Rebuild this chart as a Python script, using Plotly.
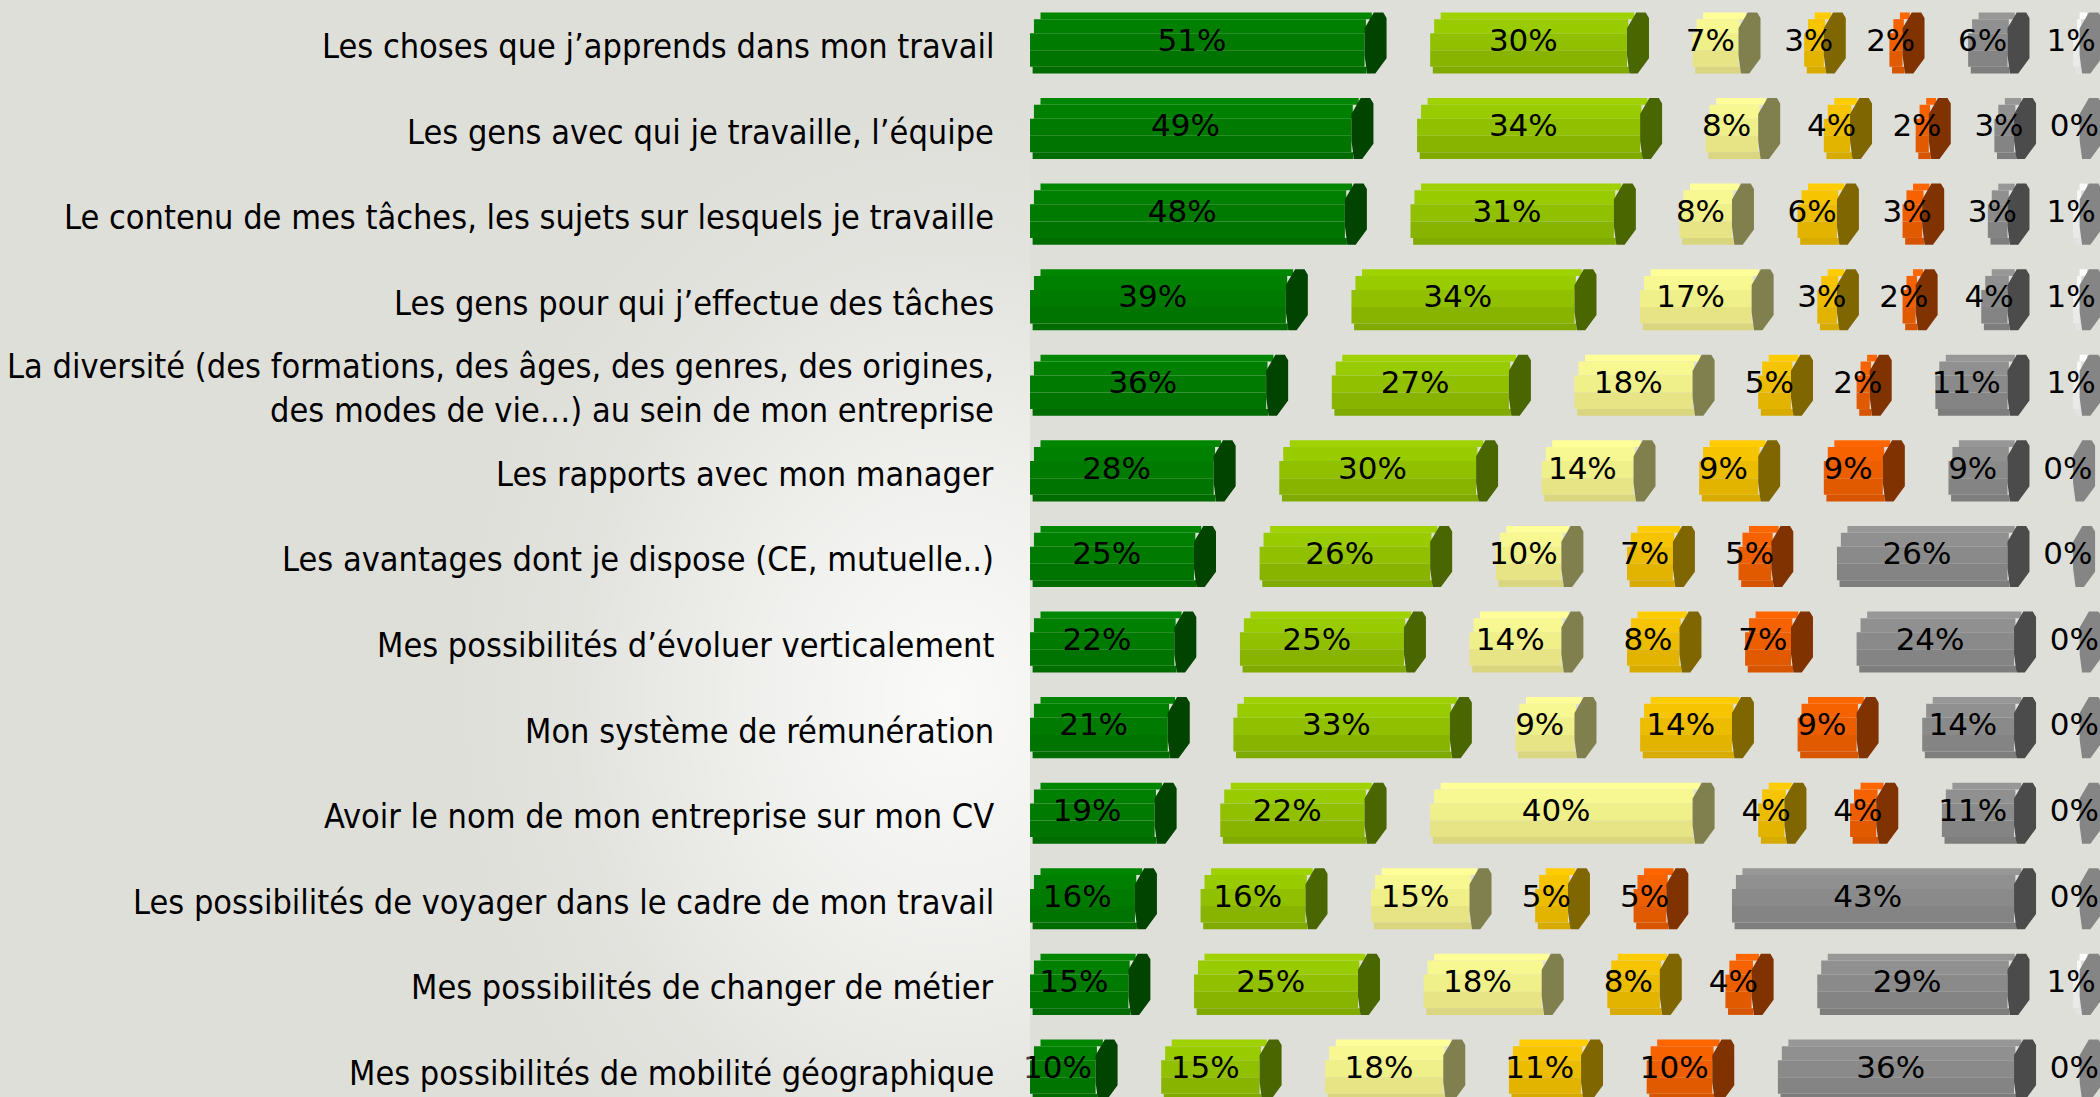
import plotly.graph_objects as go

# ---------------- data ----------------
row_labels = [
    "Les choses que j’apprends dans mon travail",
    "Les gens avec qui je travaille, l’équipe",
    "Le contenu de mes tâches, les sujets sur lesquels je travaille",
    "Les gens pour qui j’effectue des tâches",
    "La diversité (des formations, des âges, des genres, des origines,<br>des modes de vie…) au sein de mon entreprise",
    "Les rapports avec mon manager",
    "Les avantages dont je dispose (CE, mutuelle..)",
    "Mes possibilités d’évoluer verticalement",
    "Mon système de rémunération",
    "Avoir le nom de mon entreprise sur mon CV",
    "Les possibilités de voyager dans le cadre de mon travail",
    "Mes possibilités de changer de métier",
    "Mes possibilités de mobilité géographique",
]
serie_1 = [51, 49, 48, 39, 36, 28, 25, 22, 21, 19, 16, 15, 10]
serie_2 = [30, 34, 31, 34, 27, 30, 26, 25, 33, 22, 16, 25, 15]
serie_3 = [7, 8, 8, 17, 18, 14, 10, 14, 9, 40, 15, 18, 18]
serie_4 = [3, 4, 6, 3, 5, 9, 7, 8, 14, 4, 5, 8, 11]
serie_5 = [2, 2, 3, 2, 2, 9, 5, 7, 9, 4, 5, 4, 10]
serie_6 = [6, 3, 3, 4, 11, 9, 26, 24, 14, 11, 43, 29, 36]
serie_7 = [1, 0, 1, 1, 1, 0, 0, 0, 0, 0, 0, 1, 0]
series = [serie_1, serie_2, serie_3, serie_4, serie_5, serie_6, serie_7]

# ---------------- styles ----------------
face_colors = [
    ["#008600", "#008000", "#007a00", "#007400", "#006c00"],
    ["#9fd200", "#99cc00", "#90c000", "#88b400", "#80aa00"],
    ["#ffff99", "#f8f892", "#f0f08a", "#e6e484", "#dad680"],
    ["#ffcc00", "#f6c400", "#ecbc00", "#e2b400", "#d8ab00"],
    ["#ff6600", "#f66200", "#ec5e00", "#e25a00", "#d75500"],
    ["#979797", "#909090", "#8a8a8a", "#848484", "#7e7e7e"],
    ["#ffffff", "#f8f8f8", "#f1f1f1", "#eaeaea", "#e3e3e3"],
]
cap_colors = ["#004400", "#4a6600", "#80804f", "#806600", "#803300", "#4b4b4b", "#858585"]
facets = [0.0, 0.11, 0.34, 0.62, 0.89, 1.0]
left_inset = [1.6, 0.6, 0.0, 0.0, 0.4]
GAP = 10.0          # gap between segments (in % units)
CAP_W = 3.35        # depth of the end cap (in % units)
right_ext = [0.33 * CAP_W, 0.06 * CAP_W, 0.0, 0.0, 0.09 * CAP_W]
BAR_H = 0.713
cap_shape = [(0, 0.26), (0.42, 0), (0.85, 0), (1, 0.09), (1, 0.75),
             (0.49, 1), (0.11, 1), (0, 0.7), (0, 0.26)]

LABEL_FONT = "DejaVu Sans Condensed, DejaVu Sans, sans-serif"
PCT_FONT = "DejaVu Sans, sans-serif"

rows = list(range(len(row_labels)))
X_LEFT = 1030 / 2100

fig = go.Figure()

# background glow behind the labels (separate decorative subplot)
fig.add_trace(go.Scatter(
    x=[450, 1450, 1450, 450, 450], y=[100, 100, 1300, 1300, 100],
    xaxis="x2", yaxis="y2", mode="lines", line=dict(width=0),
    fill="toself", hoverinfo="skip", showlegend=False,
    fillgradient=dict(type="radial", colorscale=[
        [0.0, "rgba(255,255,255,0.85)"], [0.35, "rgba(255,255,255,0.55)"],
        [0.75, "rgba(255,255,255,0.12)"], [1.0, "rgba(255,255,255,0)"]]),
))

# starting position of each segment
starts = []
for j, s in enumerate(series):
    starts.append([sum(series[k][i] for k in range(j)) + GAP * j for i in rows])

# front faces as stacked stripes
for j, s in enumerate(series):
    for k in range(5):
        lengths, bases = [], []
        for i in rows:
            v = s[i]
            ins = min(left_inset[k], v)
            ext = right_ext[k] if v > 0 else 0.0
            bases.append(starts[j][i] + ins)
            lengths.append(max(0.0, v - ins + ext))
        fig.add_trace(go.Bar(
            y=rows, x=lengths, base=bases, orientation="h",
            width=BAR_H * (facets[k + 1] - facets[k]),
            offset=-BAR_H / 2 + BAR_H * facets[k],
            marker=dict(color=face_colors[j][k], line=dict(width=0)),
            hoverinfo="skip", showlegend=False,
        ))

# end caps
for j, s in enumerate(series):
    cx, cy = [], []
    for i in rows:
        xe = starts[j][i] + s[i]
        top = i - BAR_H / 2
        for dx, dy in cap_shape:
            cx.append(xe + dx * CAP_W)
            cy.append(top + dy * BAR_H)
        cx.append(None)
        cy.append(None)
    fig.add_trace(go.Scatter(
        x=cx, y=cy, mode="lines", fill="toself", fillcolor=cap_colors[j],
        line=dict(width=0), hoverinfo="skip", showlegend=False,
    ))

# value labels
tx, ty, tt = [], [], []
for j, s in enumerate(series):
    for i in rows:
        tx.append(starts[j][i] + s[i] / 2 - 0.8)
        ty.append(i)
        tt.append(f"{s[i]}%")
fig.add_trace(go.Scatter(
    x=tx, y=ty, text=tt, mode="text", cliponaxis=False,
    textfont=dict(family=PCT_FONT, size=31, color="#000000"),
    hoverinfo="skip", showlegend=False,
))

# row labels
for i, lab in enumerate(row_labels):
    fig.add_annotation(
        x=X_LEFT, xref="paper", y=i, yref="y", text=lab, showarrow=False,
        xanchor="right", yanchor="middle", align="right", xshift=-34, yshift=-3,
        font=dict(family=LABEL_FONT, size=34, color="#000000"),
    )

fig.update_layout(
    width=2100, height=1097,
    margin=dict(l=0, r=0, t=0, b=0),
    paper_bgcolor="#dfdfda", plot_bgcolor="rgba(0,0,0,0)",
    barmode="overlay", showlegend=False,
    xaxis=dict(domain=[X_LEFT, 1], range=[0, 163.1], visible=False, fixedrange=True),
    yaxis=dict(range=[12.316, -0.502], visible=False, fixedrange=True),
    xaxis2=dict(domain=[0, X_LEFT], range=[0, 1030], visible=False, anchor="y2"),
    yaxis2=dict(domain=[0, 1], range=[1097, 0], visible=False, anchor="x2"),
)

fig.write_html("out.html", config={"displayModeBar": False},
               post_script="document.body.style.margin='0px';")
